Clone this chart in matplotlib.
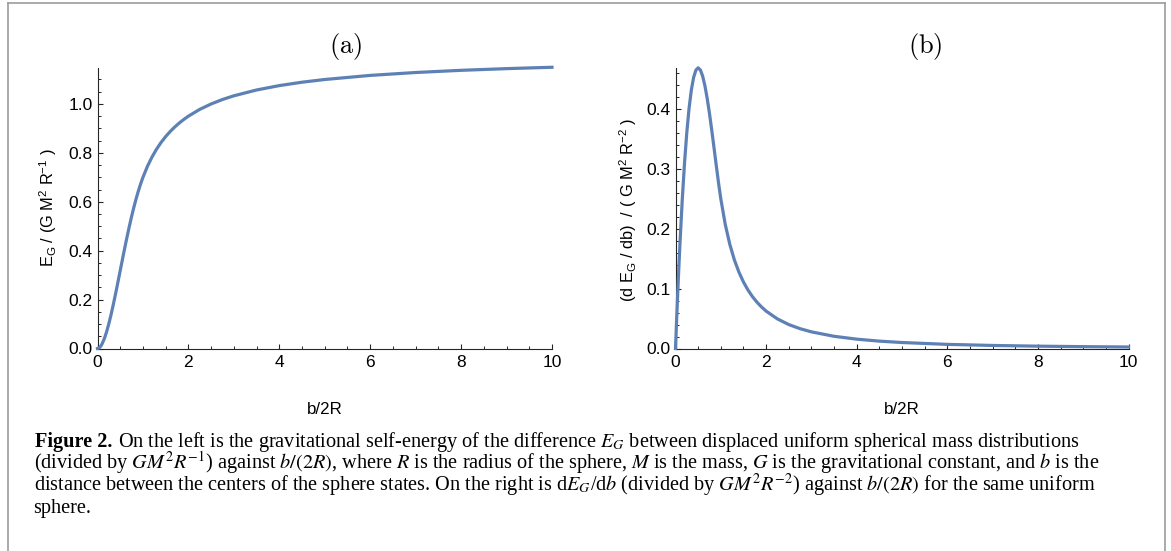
import matplotlib
matplotlib.use('Agg')
import matplotlib.pyplot as plt
from matplotlib.lines import Line2D
from matplotlib.ticker import MultipleLocator

# ---------------- data ----------------
b_over_2R = [0, 0.025, 0.05, 0.075, 0.1, 0.15, 0.2, 0.25, 0.3, 0.35, 0.4, 0.45,
             0.5, 0.55, 0.6, 0.65, 0.7, 0.75, 0.8, 0.85, 0.9, 0.95, 1.0,
             1.1, 1.2, 1.3, 1.4, 1.5, 1.6, 1.7, 1.8, 1.9, 2.0,
             2.25, 2.5, 2.75, 3.0, 3.5, 4.0, 4.5, 5.0, 6.0, 7.0, 8.0, 9.0, 10.0]

energy = [0.0, 0.00123, 0.00481, 0.01062, 0.0185, 0.0400, 0.0681, 0.1018, 0.1400,
          0.1817, 0.2260, 0.2720, 0.3188, 0.3655, 0.4116, 0.4563, 0.4991, 0.5397,
          0.5775, 0.6126, 0.6446, 0.6738, 0.7000,
          0.7455, 0.7833, 0.8154, 0.8429, 0.8667, 0.8875, 0.9059, 0.9222, 0.9368, 0.9500,
          0.9778, 1.0000, 1.0182, 1.0333, 1.0571, 1.0750, 1.0889, 1.1000, 1.1167,
          1.1286, 1.1375, 1.1444, 1.1500]

denergy = [0.0, 0.0486, 0.0944, 0.1374, 0.1776, 0.2496, 0.3108, 0.3613, 0.4016,
           0.4319, 0.4528, 0.4649, 0.4688, 0.4651, 0.4548, 0.4386, 0.4176, 0.3926,
           0.3648, 0.3354, 0.3056, 0.2766, 0.2500,
           0.2066, 0.1736, 0.1479, 0.1276, 0.1111, 0.0977, 0.0865, 0.0772, 0.0693, 0.0625,
           0.0494, 0.0400, 0.0331, 0.0278, 0.0204, 0.0156, 0.0123, 0.0100, 0.0069,
           0.0051, 0.0039, 0.0031, 0.0025]

x_ticks = [0, 2, 4, 6, 8, 10]
x_ticklabels = ['0', '2', '4', '6', '8', '10']
left_yticks = [0.0, 0.2, 0.4, 0.6, 0.8, 1.0]
left_yticklabels = ['0.0', '0.2', '0.4', '0.6', '0.8', '1.0']
right_yticks = [0.0, 0.1, 0.2, 0.3, 0.4]
right_yticklabels = ['0.0', '0.1', '0.2', '0.3', '0.4']

caption_bold = 'Figure 2.'
caption_line1 = r'On the left is the gravitational self-energy of the difference $E_G$ between displaced uniform spherical mass distributions'
caption_line2 = r'(divided by $GM^2R^{-1}$) against $b/(2R)$, where $R$ is the radius of the sphere, $M$ is the mass, $G$ is the gravitational constant, and $b$ is the'
caption_line3 = r'distance between the centers of the sphere states. On the right is d$E_G$/d$b$ (divided by $GM^2R^{-2}$) against $b/(2R)$ for the same uniform'
caption_line4 = 'sphere.'

# ---------------- style ----------------
W, H, DPI = 1171, 551, 100
CURVE = '#5E81B5'
AXC = '#262626'

plt.rcParams['font.family'] = ['Liberation Sans', 'DejaVu Sans']
plt.rcParams['mathtext.fontset'] = 'custom'
plt.rcParams['mathtext.rm'] = 'Liberation Sans'
plt.rcParams['mathtext.it'] = 'Liberation Sans'
plt.rcParams['mathtext.bf'] = 'Liberation Sans:bold'

fig = plt.figure(figsize=(W / DPI, H / DPI), dpi=DPI)


def rect(x0, x1, ytop, ybot):
    return [x0 / W, 1 - ybot / H, (x1 - x0) / W, (ybot - ytop) / H]


def fx(px):
    return px / W


def fy(py):
    return 1 - py / H


axL = fig.add_axes(rect(97.5, 552.0, 68, 348.5))
axR = fig.add_axes(rect(675.5, 1128.5, 68, 348.5))

axL.plot(b_over_2R, energy, color=CURVE, lw=2.3, clip_on=False, zorder=3)
axR.plot(b_over_2R, denergy, color=CURVE, lw=2.3, clip_on=False, zorder=3)

axL.set_xlim(0, 10)
axL.set_ylim(0, 1.147)
axR.set_xlim(0, 10)
axR.set_ylim(0, 0.4685)

for ax, yt, ytl, yminor in ((axL, left_yticks, left_yticklabels, 0.05),
                            (axR, right_yticks, right_yticklabels, 0.02)):
    ax.set_xticks(x_ticks)
    ax.set_xticklabels(x_ticklabels)
    ax.set_yticks(yt)
    ax.set_yticklabels(ytl)
    ax.xaxis.set_minor_locator(MultipleLocator(0.5))
    ax.yaxis.set_minor_locator(MultipleLocator(yminor))
    for s in ('top', 'right'):
        ax.spines[s].set_visible(False)
    for s in ('left', 'bottom'):
        ax.spines[s].set_color(AXC)
        ax.spines[s].set_linewidth(0.8)
    ax.tick_params(which='major', direction='in', length=3.6, width=0.8,
                   color=AXC, labelsize=12.5, labelcolor='black')
    ax.tick_params(which='minor', direction='in', length=2.2, width=0.7, color=AXC)
    ax.tick_params(axis='y', which='major', pad=3.4)
    ax.tick_params(axis='x', which='major', pad=4.6)
    ax.patch.set_alpha(0)

# axis labels
fig.text(fx(48), fy(207.5), r'E$_\mathrm{G}$ / (G M$^2$ R$^{-1}$ )', rotation=90,
         ha='center', va='center', fontsize=11.8)
fig.text(fx(628), fy(210), r'(d E$_\mathrm{G}$ / db)  / ( G M$^2$ R$^{-2}$ )', rotation=90,
         ha='center', va='center', fontsize=11.8)
fig.text(fx(324.5), fy(409), 'b/2R', ha='center', va='center', fontsize=12.2)
fig.text(fx(902), fy(409), 'b/2R', ha='center', va='center', fontsize=12.2)

# panel titles
fig.text(fx(346), fy(46.5), r'$\mathrm{(a)}$', math_fontfamily='cm', fontsize=19,
         ha='center', va='center')
fig.text(fx(925), fy(46.5), r'$\mathrm{(b)}$', math_fontfamily='cm', fontsize=19,
         ha='center', va='center')

# caption
serif = ['Liberation Serif', 'DejaVu Serif']
cap_fs = 12.7
base_y = [447, 469, 491.5, 513.5]
x_start = 35
tb = fig.text(fx(x_start), fy(base_y[0]), caption_bold, family=serif, weight='bold',
              fontsize=cap_fs, va='baseline', ha='left')
t1 = fig.text(fx(115), fy(base_y[0]), caption_line1, family=serif, fontsize=cap_fs,
              va='baseline', ha='left', math_fontfamily='stix')
t2 = fig.text(fx(33.5), fy(base_y[1]), caption_line2, family=serif, fontsize=cap_fs,
              va='baseline', ha='left', math_fontfamily='stix')
t3 = fig.text(fx(33.5), fy(base_y[2]), caption_line3, family=serif, fontsize=cap_fs,
              va='baseline', ha='left', math_fontfamily='stix')
t4 = fig.text(fx(33.5), fy(base_y[3]), caption_line4, family=serif, fontsize=cap_fs,
              va='baseline', ha='left', math_fontfamily='stix')

# fit caption width to the reference (line 2 spans ~33 -> 1098 px)
fig.canvas.draw()
r = fig.canvas.get_renderer()
w2 = t2.get_window_extent(r).width
scale = (1098 - 33.5) / w2
new_fs = cap_fs * scale
for t in (tb, t1, t2, t3, t4):
    t.set_fontsize(new_fs)
fig.canvas.draw()
bb = tb.get_window_extent(r)
t1.set_x((bb.x1 + 0.28 * new_fs * DPI / 72) / W)

# outer frame
FR = '#9c9c9c'
fig.add_artist(Line2D([fx(8.3), fx(8.3)], [fy(3.3), fy(600)], color=FR, lw=1.2,
                      transform=fig.transFigure, clip_on=False))
fig.add_artist(Line2D([fx(8.3), fx(1164.5)], [fy(3.3), fy(3.3)], color=FR, lw=1.2,
                      transform=fig.transFigure, clip_on=False))
fig.add_artist(Line2D([fx(1164.5), fx(1164.5)], [fy(3.3), fy(600)], color=FR, lw=1.2,
                      transform=fig.transFigure, clip_on=False))

fig.savefig('out.png', dpi=DPI)
